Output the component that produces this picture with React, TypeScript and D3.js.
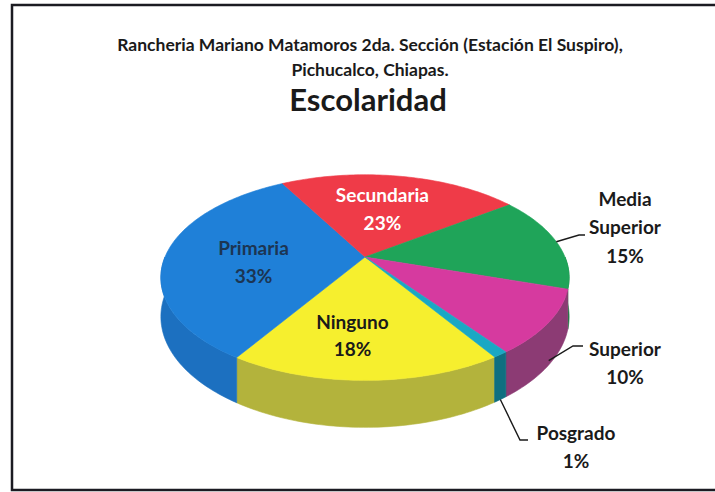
import { useEffect, useRef } from "react";
import * as d3 from "d3";

// data, in the order Excel drew the slices (clockwise)
const categories = ["Ninguno", "Primaria", "Secundaria", "Media Superior", "Superior", "Posgrado"];
const values = [18, 33, 23, 15, 10, 1];
const topColors = ["#f6ef2e", "#1f80d8", "#ef3b48", "#1fa459", "#d63a9f", "#1aa8c4"];
const sideColors = ["#b3b33c", "#1c70c0", "#c22c36", "#17803f", "#8c3b74", "#0f6f80"];
const labelInside = [true, true, true, false, false, false];
const labelLines = [["Ninguno"], ["Primaria"], ["Secundaria"], ["Media", "Superior"], ["Superior"], ["Posgrado"]];
const labelColors = ["#1a1a1a", "#1c3553", "#ffffff", "#1a1a1a", "#1a1a1a", "#1a1a1a"];

export default function App() {
  const ref = useRef<SVGSVGElement>(null);

  useEffect(() => {
    const width = 715,
      height = 492;
    const svg = d3.select(ref.current);
    svg.selectAll("*").remove();
    svg.attr("width", width).attr("height", height);

    svg.append("rect").attr("width", width).attr("height", height).attr("fill", "#ffffff");

    // frame of the scanned chart
    svg
      .append("rect")
      .attr("x", 12)
      .attr("y", 5)
      .attr("width", 720)
      .attr("height", 485)
      .attr("fill", "none")
      .attr("stroke", "#1b1b22")
      .attr("stroke-width", 2.5);

    const font = "Lato, 'Open Sans', sans-serif";

    // titles
    const title = (txt: string, y: number, size: number, x = 370) =>
      svg
        .append("text")
        .attr("x", x)
        .attr("y", y)
        .attr("text-anchor", "middle")
        .style("font-family", font)
        .style("font-weight", "bold")
        .style("font-size", `${size}px`)
        .style("fill", "#1a1a1a")
        .text(txt);
    title("Rancheria Mariano Matamoros 2da. Sección (Estación El Suspiro),", 51, 17.5);
    title("Pichucalco, Chiapas.", 76, 17.5);
    title("Escolaridad", 111, 31, 368);

    // 3D pie geometry (simple perspective of a tilted disk)
    const cx = 365,
      cy = 257,
      A = 200,
      B = 98.7,
      p = 0.2,
      H = 37.6;

    const proj = (theta: number, r: number, dz = 0): [number, number] => {
      const u = r * Math.sin(theta);
      const v = -r * Math.cos(theta);
      const den = 1 - p * v;
      return [cx + (A * u) / den, cy + (B * v) / den + dz / den];
    };

    const arcPts = (a0: number, a1: number, dz = 0) => {
      const n = Math.max(2, Math.ceil(Math.abs(a1 - a0) / 0.02));
      return d3.range(n + 1).map((i) => proj(a0 + ((a1 - a0) * i) / n, 1, dz));
    };

    const pie = d3
      .pie<number>()
      .sort(null)
      .startAngle((147.4 * Math.PI) / 180)
      .endAngle((147.4 * Math.PI) / 180 + 2 * Math.PI);
    const slices = pie(values);
    const line = d3.line();

    // side walls (front half only)
    const front = [
      [Math.PI / 2, (3 * Math.PI) / 2],
      [(5 * Math.PI) / 2, (7 * Math.PI) / 2],
    ];
    slices.forEach((s, i) => {
      front.forEach(([f0, f1]) => {
        const a0 = Math.max(s.startAngle, f0);
        const a1 = Math.min(s.endAngle, f1);
        if (a1 <= a0) return;
        const top = arcPts(a0, a1);
        const bottom = arcPts(a0, a1, H).reverse();
        svg
          .append("path")
          .attr("d", line([...top, ...bottom]) + "Z")
          .attr("fill", sideColors[i])
          .attr("stroke", sideColors[i])
          .attr("stroke-width", 0.6);
      });
    });

    // top faces
    slices.forEach((s, i) => {
      const pts: [number, number][] = [[cx, cy], ...arcPts(s.startAngle, s.endAngle)];
      svg
        .append("path")
        .attr("d", line(pts) + "Z")
        .attr("fill", topColors[i])
        .attr("stroke", topColors[i])
        .attr("stroke-width", 0.6);
    });

    const total = d3.sum(values);
    const labelFont = "19px";
    const lineGap = 27.5;

    // labels inside the slices (nudged like Excel's best-fit placement)
    const nudge: [number, number][] = [
      [-13, 7],
      [16, 8],
      [-7, 8],
    ];
    slices.forEach((s, i) => {
      if (!labelInside[i]) return;
      const mid = (s.startAngle + s.endAngle) / 2;
      const [x0, y0] = proj(mid, 0.64);
      const x = x0 + nudge[i][0],
        y = y0 + nudge[i][1];
      const t = svg
        .append("text")
        .attr("text-anchor", "middle")
        .style("font-family", font)
        .style("font-weight", "bold")
        .style("font-size", labelFont)
        .style("fill", labelColors[i]);
      const lines = [...labelLines[i], `${Math.round((values[i] / total) * 100)}%`];
      lines.forEach((l, k) => {
        t.append("tspan")
          .attr("x", x)
          .attr("y", y - ((lines.length - 1) * lineGap) / 2 + k * lineGap + 6)
          .text(l);
      });
    });

    // outside labels with leader lines
    const outside: Record<
      number,
      { x: number; y: number; elbow: [number, number]; end: [number, number]; depth: number }
    > = {
      3: { x: 625, y: 228, elbow: [579, 235], end: [585, 235], depth: 0 },
      4: { x: 625, y: 364, elbow: [573, 346], end: [583, 346], depth: 0.9 },
      5: { x: 576, y: 448, elbow: [520, 440], end: [528, 440], depth: 1 },
    };
    slices.forEach((s, i) => {
      const o = outside[i];
      if (!o) return;
      const mid = (s.startAngle + s.endAngle) / 2;
      const [ax, ay] = proj(mid, 1, H * o.depth);
      svg
        .append("path")
        .attr("d", line([[ax, ay], o.elbow, o.end]))
        .attr("fill", "none")
        .attr("stroke", "#1a1a1a")
        .attr("stroke-width", 1.4);

      const lines = [...labelLines[i], `${Math.round((values[i] / total) * 100)}%`];
      const t = svg
        .append("text")
        .attr("text-anchor", "middle")
        .style("font-family", font)
        .style("font-weight", "bold")
        .style("font-size", labelFont)
        .style("fill", labelColors[i]);
      lines.forEach((l, k) => {
        t.append("tspan")
          .attr("x", o.x)
          .attr("y", o.y - ((lines.length - 1) * 28.5) / 2 + k * 28.5 + 6)
          .text(l);
      });
    });
  }, []);

  return <svg ref={ref} style={{ display: "block", position: "absolute", left: 0, top: 0 }} />;
}
